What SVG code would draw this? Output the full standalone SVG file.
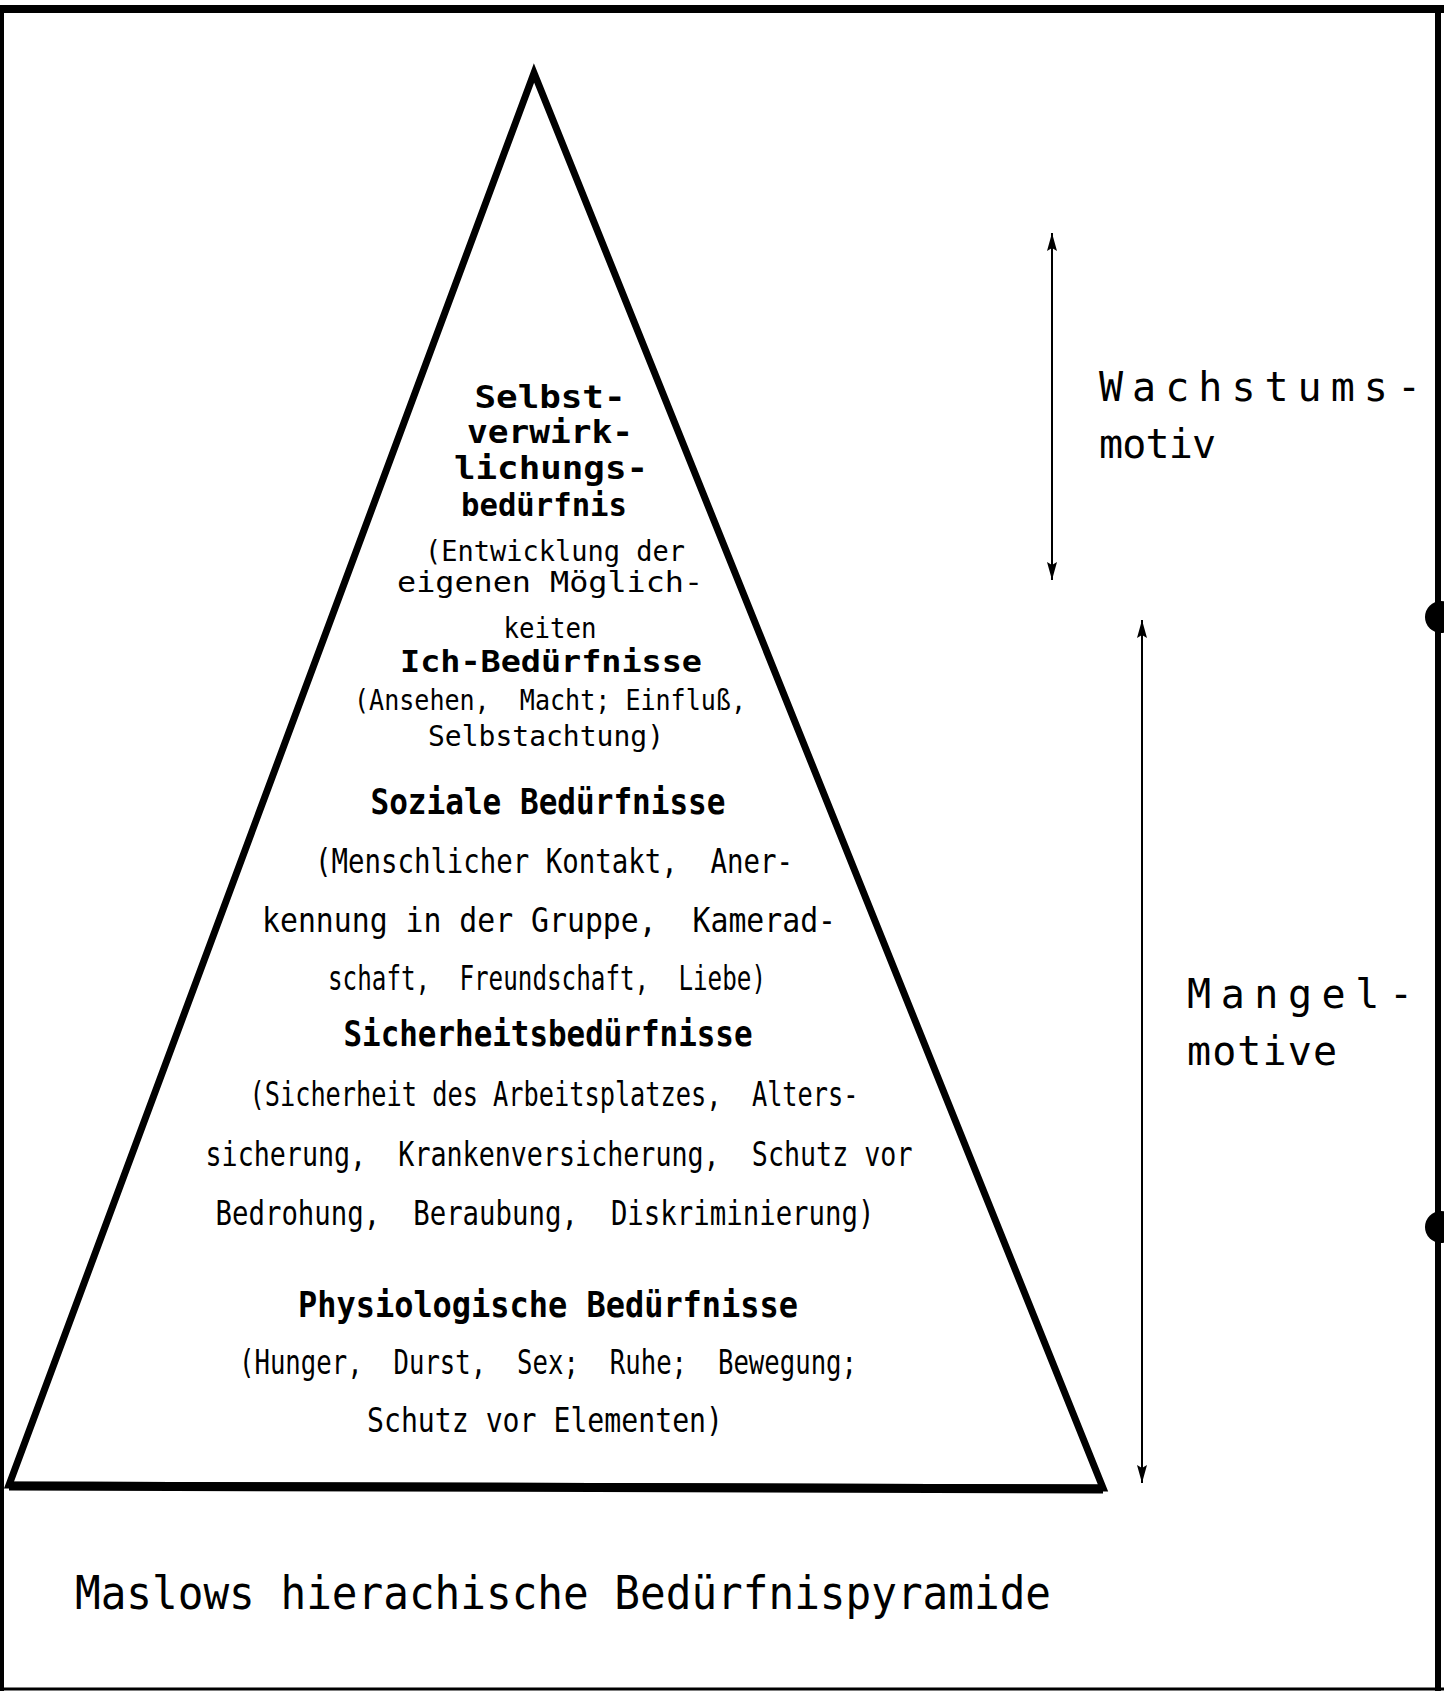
<svg xmlns="http://www.w3.org/2000/svg" width="1444" height="1691" viewBox="0 0 1444 1691">
<style>
text{font-family:"DejaVu Sans Mono","Liberation Mono",monospace;fill:#000;white-space:pre;text-anchor:middle}
.h1{font-size:32px;font-weight:bold}
.h2{font-size:31px;font-weight:bold}
.h3{font-size:36px;font-weight:bold}
.t1{font-size:28px}
.t2{font-size:33px}
.side{font-size:40px;text-anchor:start}
.cap{font-size:46px;text-anchor:start}
</style>
<defs>
<marker id="ah" viewBox="0 0 18 10" refX="18" refY="5" markerWidth="18" markerHeight="10" markerUnits="userSpaceOnUse" orient="auto-start-reverse">
<path d="M0,0 L18,5 L0,10 L3,5 z" fill="#000"/>
</marker>
</defs>
<rect width="1444" height="1691" fill="#fff"/>
<g id="frame">
<line x1="0" y1="9" x2="1444" y2="9" stroke="#000" stroke-width="8"/>
<line x1="2" y1="5" x2="2" y2="1691" stroke="#000" stroke-width="4"/>
<line x1="1438" y1="5" x2="1438" y2="1691" stroke="#000" stroke-width="6"/>
<line x1="0" y1="1689" x2="1444" y2="1689" stroke="#000" stroke-width="3"/>
<circle cx="1441" cy="617" r="16" fill="#000"/>
<circle cx="1441" cy="1227" r="16" fill="#000"/>
</g>
<g id="pyramid">
<polygon points="534,73 9,1485 1103,1488" fill="none" stroke="#000" stroke-width="7" stroke-linejoin="miter"/>
<line x1="9" y1="1486" x2="1103" y2="1489" stroke="#000" stroke-width="9"/>
</g>
<g id="connectors">
<line x1="1052" y1="233" x2="1052" y2="580" stroke="#000" stroke-width="2" marker-start="url(#ah)" marker-end="url(#ah)"/>
<line x1="1142" y1="620" x2="1142" y2="1483" stroke="#000" stroke-width="2" marker-start="url(#ah)" marker-end="url(#ah)"/>
</g>
<g id="level-selbstverwirklichung">
<text class="h1" x="550" y="408" textLength="151" lengthAdjust="spacingAndGlyphs">Selbst-</text>
<text class="h1" x="550" y="443" textLength="166" lengthAdjust="spacingAndGlyphs">verwirk-</text>
<text class="h1" x="551" y="479" textLength="194" lengthAdjust="spacingAndGlyphs">lichungs-</text>
<text class="h1" x="544" y="516" textLength="166" lengthAdjust="spacingAndGlyphs">bedürfnis</text>
<text class="t1" x="555" y="561" textLength="260" lengthAdjust="spacingAndGlyphs">(Entwicklung der</text>
<text class="t1" x="550" y="592" textLength="306" lengthAdjust="spacingAndGlyphs">eigenen Möglich-</text>
<text class="t1" x="550" y="638" textLength="93" lengthAdjust="spacingAndGlyphs">keiten</text>
</g>
<g id="level-ich">
<text class="h2" x="551" y="672" textLength="302" lengthAdjust="spacingAndGlyphs">Ich-Bedürfnisse</text>
<text class="t1" x="550" y="710" textLength="392" lengthAdjust="spacingAndGlyphs">(Ansehen,  Macht; Einfluß,</text>
<text class="t1" x="546" y="746" textLength="236" lengthAdjust="spacingAndGlyphs">Selbstachtung)</text>
</g>
<g id="level-sozial">
<text class="h3" x="548" y="814" textLength="355" lengthAdjust="spacingAndGlyphs">Soziale Bedürfnisse</text>
<text class="t2" x="554" y="873" textLength="478" lengthAdjust="spacingAndGlyphs">(Menschlicher Kontakt,  Aner-</text>
<text class="t2" x="549" y="932" textLength="574" lengthAdjust="spacingAndGlyphs">kennung in der Gruppe,  Kamerad-</text>
<text class="t2" x="547" y="990" textLength="438" lengthAdjust="spacingAndGlyphs">schaft,  Freundschaft,  Liebe)</text>
</g>
<g id="level-sicherheit">
<text class="h3" x="548" y="1046" textLength="409" lengthAdjust="spacingAndGlyphs">Sicherheitsbedürfnisse</text>
<text class="t2" x="554" y="1106" textLength="609" lengthAdjust="spacingAndGlyphs">(Sicherheit des Arbeitsplatzes,  Alters-</text>
<text class="t2" x="559" y="1166" textLength="707" lengthAdjust="spacingAndGlyphs">sicherung,  Krankenversicherung,  Schutz vor</text>
<text class="t2" x="545" y="1225" textLength="659" lengthAdjust="spacingAndGlyphs">Bedrohung,  Beraubung,  Diskriminierung)</text>
</g>
<g id="level-physiologisch">
<text class="h3" x="548" y="1317" textLength="500" lengthAdjust="spacingAndGlyphs">Physiologische Bedürfnisse</text>
<text class="t2" x="548" y="1374" textLength="618" lengthAdjust="spacingAndGlyphs">(Hunger,  Durst,  Sex;  Ruhe;  Bewegung;</text>
<text class="t2" x="545" y="1432" textLength="356" lengthAdjust="spacingAndGlyphs">Schutz vor Elementen)</text>
</g>
<g id="label-wachstum">
<text class="side" x="1099" y="401" textLength="322" lengthAdjust="spacing">Wachstums-</text>
<text class="side" x="1099" y="458" textLength="117" lengthAdjust="spacing">motiv</text>
</g>
<g id="label-mangel">
<text class="side" x="1187" y="1008" textLength="226" lengthAdjust="spacing">Mangel-</text>
<text class="side" x="1187" y="1065" textLength="150" lengthAdjust="spacing">motive</text>
</g>
<g id="caption">
<text class="cap" x="75" y="1609" textLength="976" lengthAdjust="spacingAndGlyphs">Maslows hierachische Bedürfnispyramide</text>
</g>
</svg>
